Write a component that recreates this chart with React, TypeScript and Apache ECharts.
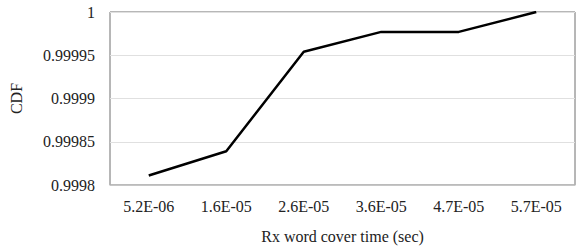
import React, { useEffect, useRef } from "react";
import * as echarts from "echarts";

const categories = ["5.2E-06", "1.6E-05", "2.6E-05", "3.6E-05", "4.7E-05", "5.7E-05"];
const cdfValues = [0.999811, 0.999839, 0.999954, 0.999977, 0.999977, 1.0];
const yTicks = [0.9998, 0.99985, 0.9999, 0.99995, 1];

export default function App() {
  const ref = useRef<HTMLDivElement>(null);
  useEffect(() => {
    if (!ref.current) return;
    const chart = echarts.init(ref.current, null, { renderer: "svg" });
    const font = "'Liberation Serif', 'Times New Roman', serif";
    chart.setOption({
      animation: false,
      backgroundColor: "#ffffff",
      grid: {
        left: 104,
        right: 5,
        top: 12,
        bottom: 62,
        show: true,
        borderColor: "#6e6e6e",
        borderWidth: 1,
        backgroundColor: "transparent",
      },
      xAxis: {
        type: "category",
        data: categories,
        boundaryGap: true,
        name: "Rx word cover time (sec)",
        nameLocation: "middle",
        nameGap: 43,
        nameTextStyle: { fontFamily: font, fontSize: 16, color: "#222" },
        axisLine: { show: true, lineStyle: { color: "#bdbdbd", width: 1.5 } },
        axisTick: { show: false },
        axisLabel: { fontFamily: font, fontSize: 16, color: "#222", margin: 13 },
        splitLine: { show: false },
      },
      yAxis: {
        type: "value",
        min: 0.9998,
        max: 1,
        interval: 0.00005,
        name: "CDF",
        nameLocation: "middle",
        nameGap: 86,
        nameRotate: 90,
        nameTextStyle: { fontFamily: font, fontSize: 16, color: "#222" },
        axisLine: { show: false },
        axisTick: { show: false },
        axisLabel: {
          fontFamily: font,
          fontSize: 16,
          color: "#222",
          margin: 15,
          formatter: (v: number) => {
            const found = yTicks.find((t) => Math.abs(t - v) < 1e-9);
            return found !== undefined ? String(found) : "";
          },
        },
        splitLine: { show: true, lineStyle: { color: "#e0e0e0", width: 1 } },
      },
      series: [
        {
          type: "line",
          data: cdfValues,
          symbol: "none",
          lineStyle: { color: "#000000", width: 2.5 },
        },
      ],
    });
    return () => chart.dispose();
  }, []);
  return (
    <div
      ref={ref}
      style={{ position: "fixed", left: 0, top: 0, width: 580, height: 249 }}
    />
  );
}
